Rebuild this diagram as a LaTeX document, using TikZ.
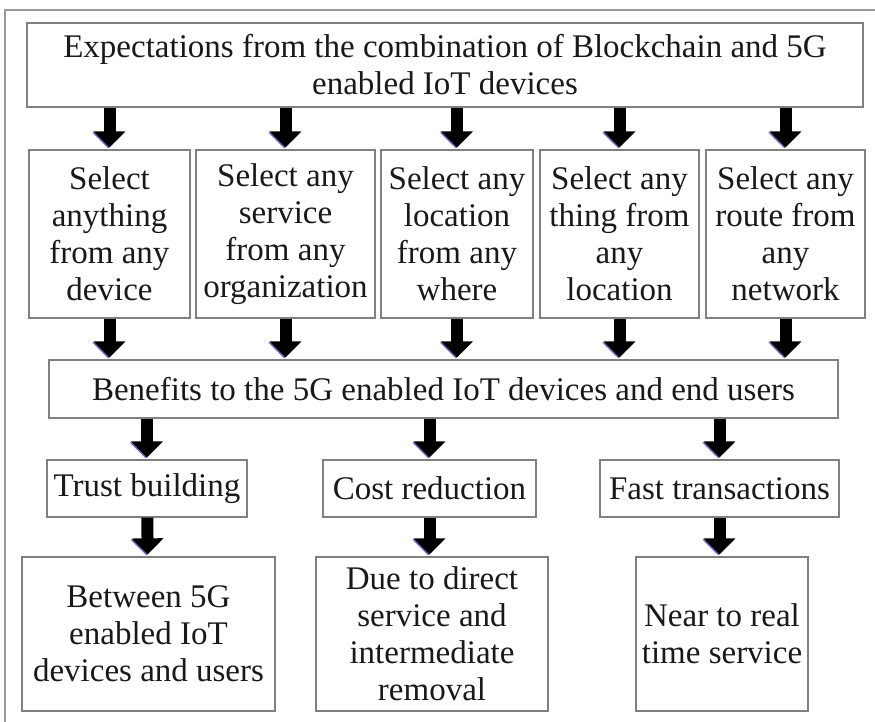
\documentclass[tikz,border=0pt]{standalone}
\usepackage{fontspec}
\setmainfont{Liberation Serif}
\usetikzlibrary{shapes,arrows.meta,positioning,calc}

\begin{document}
\begin{tikzpicture}[x=1pt,y=-1pt]
\tikzstyle{box} = [rectangle, draw=black!50, line width=1.3pt, text=black!90, align=center, inner sep=0pt, font=\fontsize{33}{37}\selectfont]
\tikzstyle{arrow} = [line width=12pt, -{Triangle[width=31pt,length=16pt]}, black, shorten >=2pt, preaction={draw=blue!55!black, opacity=0.6, transform canvas={xshift=-1.2pt,yshift=-1pt}}]

\useasboundingbox (0,0) rectangle (875,722);
\draw [black!40, line width=2pt] (5,730) -- (5,10) -- (880,10);

\node (expect) [box, minimum width=836pt, minimum height=84pt] at (445,65) {Expectations from the combination of Blockchain and 5G\\enabled IoT devices};

\node (device) [box, minimum width=161pt, minimum height=168pt] at (109.5,234) {Select\\anything\\from any\\device};
\node (service) [box, minimum width=179pt, minimum height=168pt] at (285.5,234) {Select any\\service\\from any\\organization};
\node (location) [box, minimum width=152pt, minimum height=168pt] at (457,234) {Select any\\location\\from any\\where};
\node (thing) [box, minimum width=159pt, minimum height=168pt] at (619.5,234) {Select any\\thing from\\any\\location};
\node (route) [box, minimum width=159pt, minimum height=168pt] at (785.5,234) {Select any\\route from\\any\\network};

\node (benefits) [box, minimum width=789pt, minimum height=58pt] at (443.5,389) {Benefits to the 5G enabled IoT devices and end users};

\node (trust) [box, minimum width=200pt, minimum height=57pt] at (147,488.5) {Trust building};
\node (cost) [box, minimum width=213pt, minimum height=57pt] at (429.5,488.5) {Cost reduction};
\node (fast) [box, minimum width=239pt, minimum height=57pt] at (719.5,488.5) {Fast transactions};

\node (between) [box, minimum width=253pt, minimum height=154pt] at (148.5,634) {Between 5G\\enabled IoT\\devices and users};
\node (direct) [box, minimum width=232pt, minimum height=154pt] at (432,634) {Due to direct\\service and\\intermediate\\removal};
\node (realtime) [box, minimum width=172pt, minimum height=154pt] at (722,634) {Near to real\\time service};

\draw [arrow] (expect.south -| device) -- (device);
\draw [arrow] (expect.south -| service) -- (service);
\draw [arrow] (expect.south -| location) -- (location);
\draw [arrow] (expect.south -| thing) -- (thing);
\draw [arrow] (expect.south -| route) -- (route);

\draw [arrow] (device) -- (device |- benefits.north);
\draw [arrow] (service) -- (service |- benefits.north);
\draw [arrow] (location) -- (location |- benefits.north);
\draw [arrow] (thing) -- (thing |- benefits.north);
\draw [arrow] (route) -- (route |- benefits.north);

\draw [arrow] (benefits.south -| trust) -- (trust);
\draw [arrow] (benefits.south -| cost) -- (cost);
\draw [arrow] (benefits.south -| fast) -- (fast);

\draw [arrow] (trust) -- (between);
\draw [arrow] (cost) -- (cost |- direct.north);
\draw [arrow] (fast) -- (fast |- realtime.north);

\end{tikzpicture}
\end{document}
